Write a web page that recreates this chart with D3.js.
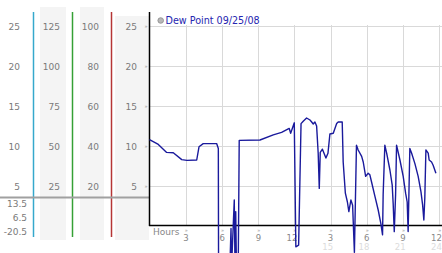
<!DOCTYPE html>
<html><head><meta charset="utf-8">
<script src="https://cdn.jsdelivr.net/npm/d3@7"></script>
<style>html,body{margin:0;padding:0;background:#fff;overflow:hidden}svg{display:block;font-family:"DejaVu Sans",Verdana,sans-serif}</style>
</head><body><svg id="c" width="442" height="253"></svg>
<script>
// ---- data ----
const hours = [0,0.73,1.42,1.97,2.67,3.1,3.91,4.1,4.45,5.56,5.7,5.72,6.66,6.75,6.8,7.02,7.08,7.14,7.2,7.35,7.43,9.15,10.25,10.94,11.57,11.69,11.99,12.12,12.35,12.55,12.73,13.01,13.29,13.43,13.56,13.7,13.84,13.97,14.06,14.14,14.32,14.61,14.78,14.94,15.22,15.5,15.63,15.96,16.04,16.22,16.39,16.51,16.68,16.82,16.97,17.14,17.28,17.57,17.7,17.9,18.11,18.25,18.39,18.67,18.94,19.16,19.3,19.35,19.49,19.64,19.91,20.1,20.18,20.27,20.38,20.46,20.74,21.01,21.21,21.34,21.42,21.56,21.71,21.98,22.25,22.48,22.62,22.72,22.8,22.89,23.08,23.16,23.36,23.49,23.72];
const dewPoint = [10.8,10.2,9.2,9.15,8.3,8.2,8.25,9.9,10.3,10.3,9.7,-5,-5,-0.3,-5,3.25,-5,1.8,-5,-5,10.7,10.75,11.4,11.7,12.2,11.6,12.9,-2.6,-2.4,12.8,13.1,13.5,13.25,13.0,12.75,13.0,12.5,9.1,4.7,9.2,9.6,8.5,9.1,11.5,11.6,12.8,13.0,13.0,8.0,4.1,3.0,1.8,3.25,2.6,-3.3,10.1,9.5,8.7,8.0,6.2,6.6,6.4,5.5,3.7,2.0,0.3,-1.1,3.9,10.1,9.1,7.0,5.1,2.8,-0.7,3.9,10.1,8.25,6.2,4.1,3.0,-0.7,9.7,9.1,7.8,6.2,4.3,2.6,0.75,3.5,9.5,9.1,8.25,8.0,7.6,6.6];
const axis1Ticks = [25,20,15,10,5];
const axis2Ticks = [125,100,75,50,25];
const axis3Ticks = [100,80,60,40,20];
const axis4Ticks = [25,20,15,10,5];
const extraLabels = ["13.5","6.5","-20.5"];
const hourTicks = [3,6,9,12,15,18,21,24];
const hourLabels = ["3","6","9","12","3","6","9","12"];
const hourLabels2 = ["","","","","15","18","21","24"];
const legendText = "Dew Point 09/25/08";

// ---- scales ----
const svg = d3.select("#c");
const x = d3.scaleLinear().domain([0,24]).range([149.5,439.3]);
const y = d3.scaleLinear().domain([0,25]).range([226,26]);
const y2 = d3.scaleLinear().domain([0,125]).range([226,26]);
const y3 = d3.scaleLinear().domain([0,100]).range([226,26]);

// column backgrounds
const bgs = [[40,7,26,233],[80,7,24,233],[115,16,34,224]];
svg.selectAll("rect.bg").data(bgs).join("rect").attr("class","bg")
  .attr("x",d=>d[0]).attr("y",d=>d[1]).attr("width",d=>d[2]).attr("height",d=>d[3]).attr("fill","#f4f4f4");

// colored axis lines
const axLines = [[33.5,"#35a8cc"],[72.5,"#35a035"],[111.5,"#b53535"]];
svg.selectAll("line.ax").data(axLines).join("line").attr("class","ax")
  .attr("x1",d=>d[0]).attr("x2",d=>d[0]).attr("y1",12).attr("y2",237)
  .attr("stroke",d=>d[1]).attr("stroke-width",1.5);

// gray separator
svg.append("line").attr("x1",0).attr("x2",150).attr("y1",197.5).attr("y2",197.5)
  .attr("stroke","#a0a0a0").attr("stroke-width",2);

// grid
svg.selectAll("line.hg").data(axis4Ticks).join("line").attr("class","hg")
  .attr("x1",150).attr("x2",442).attr("y1",d=>Math.round(y(d))+0.5).attr("y2",d=>Math.round(y(d))+0.5)
  .attr("stroke","#d9d9d9");
svg.selectAll("line.vg").data(hourTicks).join("line").attr("class","vg")
  .attr("x1",d=>Math.round(x(d))+0.5).attr("x2",d=>Math.round(x(d))+0.5).attr("y1",25).attr("y2",225)
  .attr("stroke","#d9d9d9");

// axes
svg.append("line").attr("x1",149.5).attr("x2",149.5).attr("y1",12).attr("y2",226).attr("stroke","#000").attr("stroke-width",1.5);
svg.append("line").attr("x1",149).attr("x2",442).attr("y1",225.5).attr("y2",225.5).attr("stroke","#000").attr("stroke-width",1.5);

// left labels
const lab = (cls,data,sc,xr)=>svg.selectAll("text."+cls).data(data).join("text").attr("class",cls)
  .attr("x",xr).attr("y",d=>sc(d)+3.5).attr("text-anchor","end").attr("font-size",9).attr("fill","#7a7a7a").text(d=>d);
lab("a1",axis1Ticks,y,20);
lab("a2",axis2Ticks,y2,60);
lab("a3",axis3Ticks,y3,99);
lab("a4",axis4Ticks,y,137);
svg.selectAll("text.ic").data(axis4Ticks).join("text").attr("class","ic")
  .attr("x",146).attr("y",d=>y(d)+2).attr("text-anchor","middle").attr("font-size",5).attr("fill","#999").text("»");
svg.selectAll("text.ex").data(extraLabels).join("text").attr("class","ex")
  .attr("x",27).attr("y",(d,i)=>207+i*14).attr("text-anchor","end").attr("font-size",9).attr("fill","#7a7a7a").text(d=>d);

// x axis labels
svg.append("text").attr("x",153).attr("y",235).attr("font-size",9).attr("fill","#888").text("Hours");
svg.selectAll("text.xi").data(hourTicks).join("text").attr("class","xi")
  .attr("x",d=>x(d)+0.5).attr("y",232).attr("text-anchor","middle").attr("font-size",5).attr("fill","#999").text("»");
svg.selectAll("text.xl").data(hourTicks).join("text").attr("class","xl")
  .attr("x",(d,i)=>x(d)+(i<4?3:2.5)).attr("y",241).attr("text-anchor","end").attr("font-size",8.5).attr("fill","#888").text((d,i)=>hourLabels[i]);
svg.selectAll("text.xl2").data(hourTicks).join("text").attr("class","xl2")
  .attr("x",d=>x(d)+2.5).attr("y",249.5).attr("text-anchor","end").attr("font-size",8.5).attr("fill","#dcdcdc").text((d,i)=>hourLabels2[i]);

// legend
svg.append("circle").attr("cx",160.7).attr("cy",20.5).attr("r",2.8).attr("fill","#b8b8b8").attr("stroke","#8a8a8a").attr("stroke-width",0.8);
svg.append("text").attr("x",165.5).attr("y",24).attr("font-size",9.6).attr("fill","#2525b0").text(legendText);

// line
const pts = hours.map((h,i)=>[h,dewPoint[i]]);
svg.append("path").datum(pts).attr("fill","none").attr("stroke","#1a1a9c").attr("stroke-width",1.4)
  .attr("stroke-linejoin","round")
  .attr("d",d3.line().x(d=>x(d[0])).y(d=>y(d[1])));
</script></body></html>
